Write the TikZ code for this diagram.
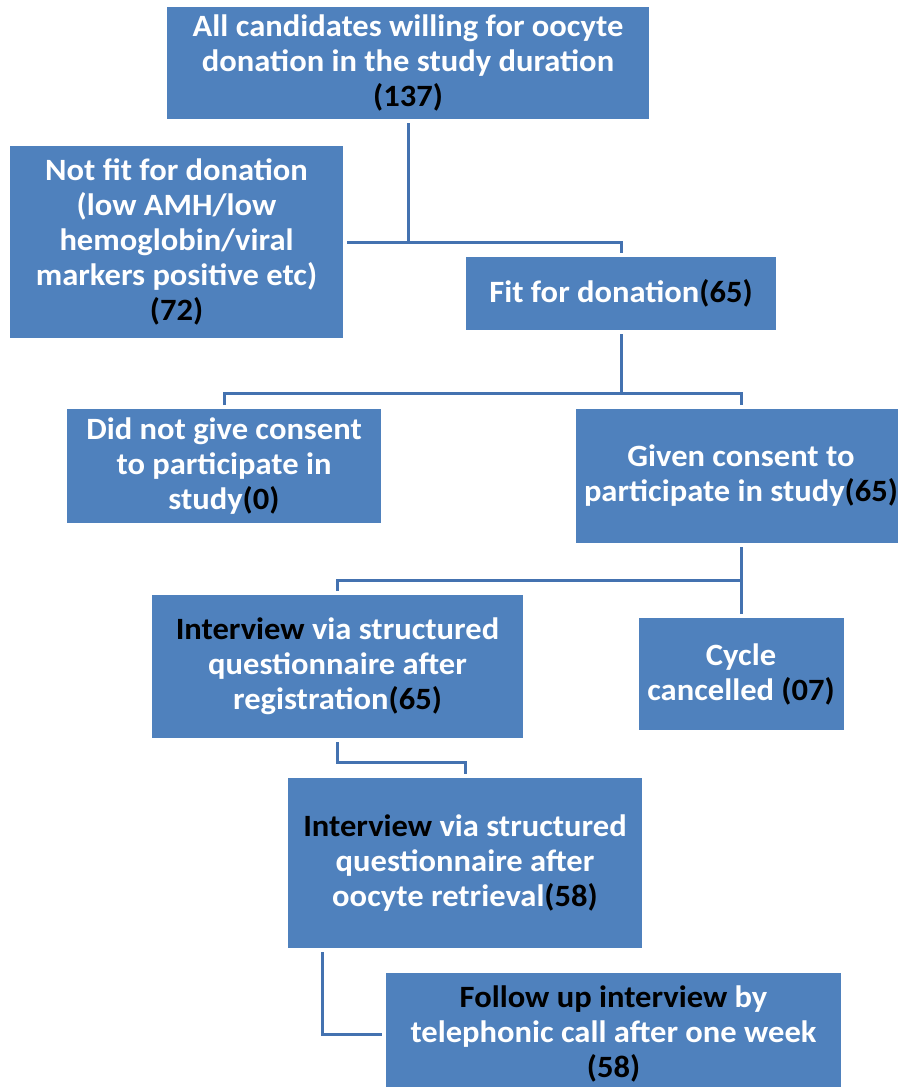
\documentclass[tikz,border=0pt]{standalone}
\usepackage{fontspec}
\setmainfont{Carlito}[FakeStretch=1.05]
\usepackage{tikz}
\usetikzlibrary{positioning}
\definecolor{boxblue}{RGB}{79,129,189}
\definecolor{lineblue}{RGB}{68,114,176}
\newcommand{\cnt}[1]{{\color{black}#1}}
\tikzset{box/.style = {fill=boxblue, text=white, align=center, inner sep=0pt,
                       outer sep=4pt, font=\bfseries\fontsize{31}{35}\selectfont},
         link/.style = {draw=lineblue, line width=3pt}}

\begin{document}
\begin{tikzpicture}[x=1pt, y=-1pt]
    \useasboundingbox (0, 0) rectangle (897, 1087);
    \fill [white] (0, 0) rectangle (897, 1087);
    \node (all) at (408, 63) [box, minimum width=482, minimum height=112]
      {All candidates willing for oocyte\\donation in the study duration\\\cnt{(137)}};
    \node (notfit) at (176.5, 242) [box, minimum width=333, minimum height=192]
      {Not fit for donation\\(low AMH/low\\hemoglobin/viral\\markers positive etc)\\\cnt{(72)}};
    \node (fit) at (621, 293.5) [box, minimum width=310, minimum height=73]
      {Fit for donation\cnt{(65)}};
    \node (noconsent) at (224, 466) [box, minimum width=314, minimum height=114]
      {Did not give consent\\to participate in\\study\cnt{(0)}};
    \node (consent) at (741, 476) [box, minimum width=330, minimum height=134]
      {Given consent to\\participate in study\cnt{(65)}};
    \node (regint) at (337.5, 666.5) [box, minimum width=371, minimum height=143]
      {\cnt{Interview} via structured\\questionnaire after\\registration\cnt{(65)}};
    \node (cancel) at (741, 674) [box, minimum width=205, minimum height=112]
      {Cycle\\cancelled \cnt{(07)}};
    \node (retint) at (465, 863) [box, minimum width=354, minimum height=170]
      {\cnt{Interview} via structured\\questionnaire after\\oocyte retrieval\cnt{(58)}};
    \node (follow) at (613.5, 1034) [box, minimum width=455, minimum height=122]
      {\cnt{Follow up interview} by\\telephonic call after one week\\\cnt{(58)}};
    % connectors
    \draw [link] (all.south) -- (all.south |- notfit.east);
    \draw [link] (notfit.east) -| (fit.north);
    \coordinate (fork) at (621, 393);
    \draw [link] (fit.south) -- (fork);
    \draw [link] (noconsent.north) |- (fork) -| (consent.north);
    \draw [link] (consent.south) -- (cancel.north);
    \draw [link] (regint.north) |- (consent.south |- 0, 580);
    \draw [link] (regint.south) -- ++(0, 20) -| (retint.north);
    \draw [link] ([xshift=38pt]retint.south west) |- (follow.west);
  \end{tikzpicture}
\end{document}
